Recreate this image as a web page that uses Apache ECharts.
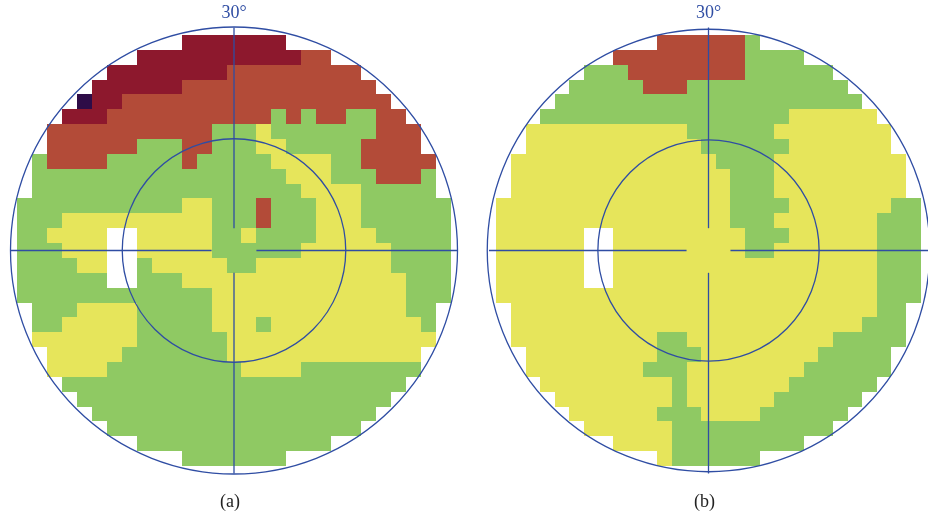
<!DOCTYPE html>
<html>
<head>
<meta charset="utf-8">
<script src="https://cdn.jsdelivr.net/npm/echarts@6/dist/echarts.min.js"></script>
<style>
html, body { margin: 0; padding: 0; background: #fff; }
#main { width: 928px; height: 516px; }
</style>
</head>
<body>
<div id="main"></div>
<script>
// one string per test row, top row = +28 deg, left char = -28 deg, 2 deg steps
// P/D/R = defect classes (deep -> mild), G/Y = near normal / normal, '.' = not tested
var fieldA = [
  '...........DDDDDDD...........',
  '........DDDDDDDDDDDRR........',
  '......DDDDDDDDRRRRRRRRR......',
  '.....DDDDDDRRRRRRRRRRRRR.....',
  '....PDDRRRRRRRRRRRRRRRRRR....',
  '...DDDRRRRRRRRRRRGRGRRGGRR...',
  '..RRRRRRRRRRRGGGYGGGGGGGRRR..',
  '..RRRRRRGGGRRGGGYYGGGGGRRRR..',
  '.GRRRRGGGGGRGGGGGYYYYGGRRRRR.',
  '.GGGGGGGGGGGGGGGGGYYYGGGRRRG.',
  '.GGGGGGGGGGGGGGGGGGYYYYGGGGG.',
  'GGGGGGGGGGGYYGGGRGGGYYYGGGGGG',
  'GGGYYYYYYYYYYGGGRGGGYYYGGGGGG',
  'GGYYYY..YYYYYGGYGGGGYYYYGGGGG',
  'GGGYYY..YYYYYGGGGGGYYYYYYGGGG',
  'GGGGYY..GYYYYYGGYYYYYYYYYGGGG',
  'GGGGGG..GGGYYYYYYYYYYYYYYYGGG',
  'GGGGGGGGGGGGGYYYYYYYYYYYYYGGG',
  '.GGGYYYYGGGGGYYYYYYYYYYYYYGG.',
  '.GGYYYYYGGGGGYYYGYYYYYYYYYYG.',
  '.YYYYYYYGGGGGGYYYYYYYYYYYYYY.',
  '..YYYYYGGGGGGGYYYYYYYYYYYYY..',
  '..YYYYGGGGGGGGGYYYYGGGGGGGG..',
  '...GGGGGGGGGGGGGGGGGGGGGGG...',
  '....GGGGGGGGGGGGGGGGGGGGG....',
  '.....GGGGGGGGGGGGGGGGGGG.....',
  '......GGGGGGGGGGGGGGGGG......',
  '........GGGGGGGGGGGGG........',
  '...........GGGGGGG...........'
];
var fieldB = [
  '...........RRRRRRG...........',
  '........RRRRRRRRRGGGG........',
  '......GGGRRRRRRRRGGGGGG......',
  '.....GGGGGRRRGGGGGGGGGGG.....',
  '....GGGGGGGGGGGGGGGGGGGGG....',
  '...GGGGGGGGGGGGGGGGGYYYYYY...',
  '..YYYYYYYYYYYGGGGGGYYYYYYYY..',
  '..YYYYYYYYYYYYGGGGGGYYYYYYY..',
  '.YYYYYYYYYYYYYYGGGGYYYYYYYYY.',
  '.YYYYYYYYYYYYYYYGGGYYYYYYYYY.',
  '.YYYYYYYYYYYYYYYGGGYYYYYYYYY.',
  'YYYYYYYYYYYYYYYYGGGGYYYYYYYGG',
  'YYYYYYYYYYYYYYYYGGGYYYYYYYGGG',
  'YYYYYY..YYYYYYYYYGGGYYYYYYGGG',
  'YYYYYY..YYYYYYYYYGGYYYYYYYGGG',
  'YYYYYY..YYYYYYYYYYYYYYYYYYGGG',
  'YYYYYY..YYYYYYYYYYYYYYYYYYGGG',
  'YYYYYYYYYYYYYYYYYYYYYYYYYYGGG',
  '.YYYYYYYYYYYYYYYYYYYYYYYYYGG.',
  '.YYYYYYYYYYYYYYYYYYYYYYYYGGG.',
  '.YYYYYYYYYYGGYYYYYYYYYYGGGGG.',
  '..YYYYYYYYYGGGYYYYYYYYGGGGG..',
  '..YYYYYYYYGGGYYYYYYYYGGGGGG..',
  '...YYYYYYYYYGYYYYYYYGGGGGG...',
  '....YYYYYYYYGYYYYYYGGGGGG....',
  '.....YYYYYYGGGYYYYGGGGGG.....',
  '......YYYYYYGGGGGGGGGGG......',
  '........YYYYGGGGGGGGG........',
  '...........YGGGGGG...........'
];
var classKeys = ['P', 'D', 'R', 'G', 'Y'];
var classColors = ['#2e0c47', '#8d182d', '#b34b38', '#8fc963', '#e6e55b'];
var cellStep = 2;            // degrees between test points
var rings = [15, 30];        // circles, degrees
var crossGap = 3;            // no cross lines inside this radius
var topLabel = '30°';
var panelLabels = ['(a)', '(b)'];
var lineColor = '#2f4da3';

function toCells(rows) {
  var out = [];
  var mid = (rows.length - 1) / 2;
  rows.forEach(function (row, j) {
    for (var i = 0; i < row.length; i++) {
      var k = classKeys.indexOf(row.charAt(i));
      if (k < 0) continue;
      out.push([(i - mid) * cellStep, (mid - j) * cellStep, k]);
    }
  });
  return out;
}

function renderCell(params, api) {
  var x = api.value(0), y = api.value(1), h = cellStep / 2;
  var a = api.coord([x - h, y + h]);
  var b = api.coord([x + h, y - h]);
  // snap to whole pixels so neighbouring cells meet without seams
  var x0 = Math.round(a[0]), y0 = Math.round(a[1]);
  var x1 = Math.round(b[0]), y1 = Math.round(b[1]);
  return {
    type: 'rect',
    shape: { x: x0, y: y0, width: x1 - x0, height: y1 - y0 },
    style: { fill: classColors[api.value(2)] }
  };
}

function renderFrame(params, api) {
  var c = api.coord([0, 0]);
  var R = rings[rings.length - 1];
  var kids = [];
  rings.forEach(function (r) {
    var s = api.size([r, r]);
    kids.push({
      type: 'circle',
      shape: { cx: c[0], cy: c[1], r: (s[0] + s[1]) / 2 },
      style: { fill: 'none', stroke: lineColor, lineWidth: 1.3 }
    });
  });
  [[-R, 0, -crossGap, 0], [crossGap, 0, R, 0], [0, R, 0, crossGap], [0, -crossGap, 0, -R]].forEach(function (l) {
    var p = api.coord([l[0], l[1]]), q = api.coord([l[2], l[3]]);
    kids.push({
      type: 'line',
      shape: { x1: p[0], y1: p[1], x2: q[0], y2: q[1] },
      style: { stroke: lineColor, lineWidth: 1.3 }
    });
  });
  var top = api.coord([0, R]);
  kids.push({
    type: 'text', x: top[0], y: top[1] - 14,
    style: { text: topLabel, fill: lineColor, fontSize: 18, fontFamily: 'Liberation Serif',
             align: 'center', verticalAlign: 'middle' }
  });
  var bottom = api.coord([0, -R]);
  kids.push({
    type: 'text', x: bottom[0] - 4, y: bottom[1] + 29,
    style: { text: panelLabels[api.value(2)], fill: '#222', fontSize: 18, fontFamily: 'Liberation Serif',
             align: 'center', verticalAlign: 'middle' }
  });
  return { type: 'group', children: kids };
}

var chart = echarts.init(document.getElementById('main'));
var axis = { type: 'value', min: -30, max: 30, show: false };
option = {
  animation: false,
  grid: [
    { left: 10, top: 27.5, width: 448, height: 446 },
    { left: 489, top: 27.5, width: 448, height: 446 }
  ],
  xAxis: [Object.assign({ gridIndex: 0 }, axis), Object.assign({ gridIndex: 1 }, axis)],
  yAxis: [Object.assign({ gridIndex: 0 }, axis), Object.assign({ gridIndex: 1 }, axis)],
  series: [
    { type: 'custom', xAxisIndex: 0, yAxisIndex: 0, renderItem: renderCell, data: toCells(fieldA), z: 1, silent: true },
    { type: 'custom', xAxisIndex: 1, yAxisIndex: 1, renderItem: renderCell, data: toCells(fieldB), z: 1, silent: true },
    { type: 'custom', xAxisIndex: 0, yAxisIndex: 0, renderItem: renderFrame, data: [[0, 0, 0]], z: 2, silent: true },
    { type: 'custom', xAxisIndex: 1, yAxisIndex: 1, renderItem: renderFrame, data: [[0, 0, 1]], z: 2, silent: true }
  ]
};
chart.setOption(option);
</script>
</body>
</html>
